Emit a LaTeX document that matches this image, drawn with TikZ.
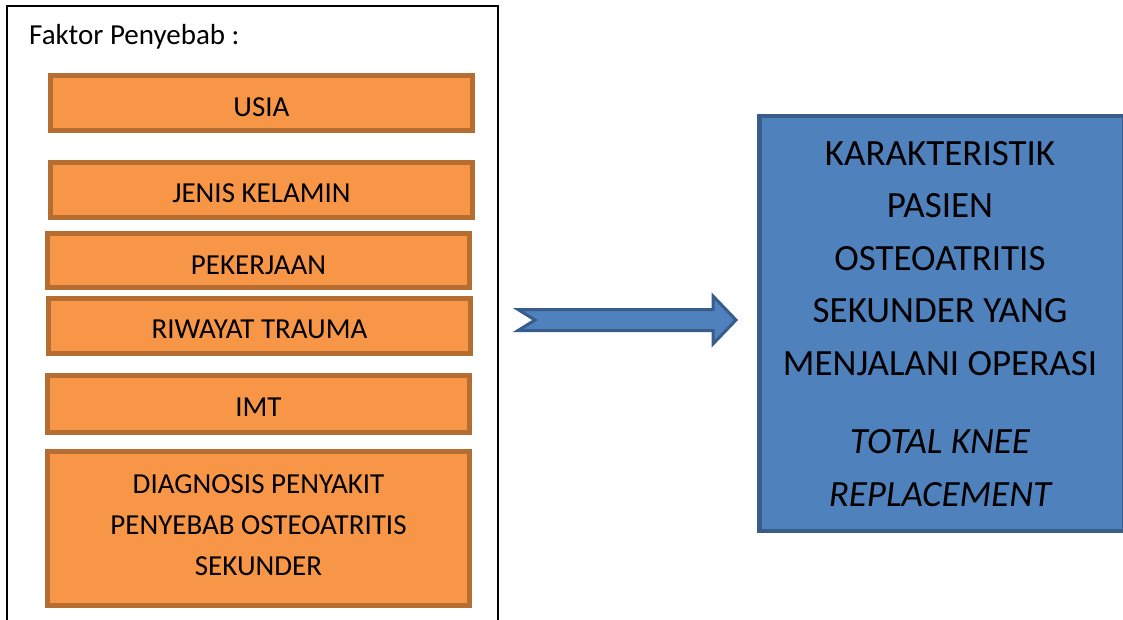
\documentclass[tikz,border=0pt]{standalone}
\usepackage{fontspec}
\setmainfont{Carlito}
\definecolor{ofill}{HTML}{F79646}
\definecolor{oline}{HTML}{B66D31}
\definecolor{bfill}{HTML}{4F81BD}
\definecolor{bline}{HTML}{385D8A}
\begin{document}
\begin{tikzpicture}[x=1pt,y=-1pt,
  obox/.style={draw=oline, fill=ofill, line width=5pt, minimum width=422pt, inner sep=0pt},
  otext/.style={anchor=base, font=\fontsize{29}{41}\selectfont, align=center, inner sep=0pt},
  btext/.style={anchor=base, font=\fontsize{37}{52.5}\selectfont, align=center, inner sep=0pt},
  bbox/.style={draw=bline, fill=bfill, line width=4.5pt, inner sep=0pt}]
\useasboundingbox (0,0) rectangle (1123,620);
\fill[white] (0,0) rectangle (1123,620);
% outer frame
\draw[line width=1.8pt] (7,640) -- (7,6) -- (498,6) -- (498,640);
\node[otext, anchor=base west] (title) at (29,45) {Faktor Penyebab :};
% factor boxes
\node[obox, minimum height=55pt] (usia) at (261.5,103) {};
\node[otext] at ([yshift=-14pt]usia.center) {USIA};
\node[obox, minimum height=55pt] (jk) at (261.5,190) {};
\node[otext] at ([yshift=-13pt]jk.center) {JENIS KELAMIN};
\node[obox, minimum height=54pt] (kerja) at (258.5,260.5) {};
\node[otext] at ([yshift=-13.5pt]kerja.center) {PEKERJAAN};
\node[obox, minimum height=55pt] (trauma) at (259.5,326) {};
\node[otext] at ([yshift=-12pt]trauma.center) {RIWAYAT TRAUMA};
\node[obox, minimum height=57pt] (imt) at (258.5,404) {};
\node[otext] at ([yshift=-12pt]imt.center) {IMT};
\node[obox, minimum height=154pt] (diag) at (258.5,528.5) {};
\node[otext] at ([yshift=-46.5pt]diag.center) {DIAGNOSIS PENYAKIT\\PENYEBAB OSTEOATRITIS\\SEKUNDER};
% block arrow
\draw[bline, line width=3pt, fill=bfill, line join=miter]
  (518,309.5) -- (713,309.5) -- (713,296) -- (736,320) -- (713,344)
  -- (713,330.5) -- (518,330.5) -- (535,320) -- cycle;
% result box
\node[bbox, minimum width=364.5pt, minimum height=414.5pt] (kar) at (941.5,323.5) {};
\node[btext] at (940,506) {KARAKTERISTIK\\PASIEN\\OSTEOATRITIS\\SEKUNDER YANG\\MENJALANI OPERASI\\[26pt]\itshape TOTAL KNEE\\\itshape REPLACEMENT};
\end{tikzpicture}
\end{document}
